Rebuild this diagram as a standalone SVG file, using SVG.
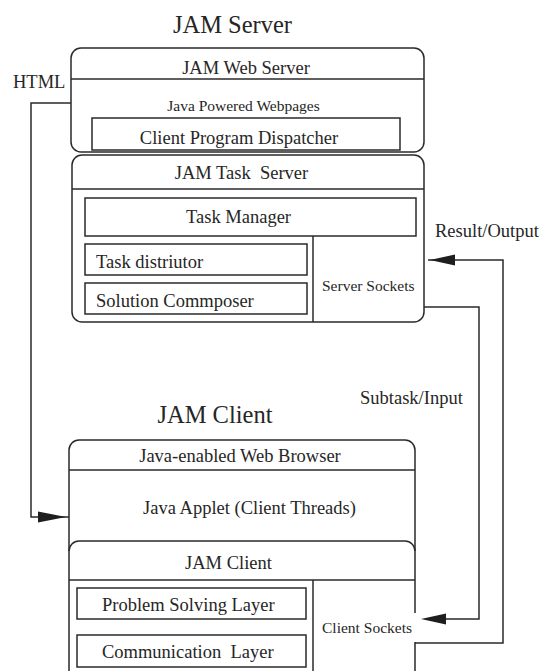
<svg xmlns="http://www.w3.org/2000/svg" width="542" height="671" viewBox="0 0 542 671">
<style>
  .box { fill: none; stroke: #2a2a2a; stroke-width: 1.5; }
  .ln { fill: none; stroke: #2a2a2a; stroke-width: 1.5; }
  .head { fill: #1e1e1e; stroke: none; }
  text { font-family: "Liberation Serif", "Times New Roman", serif; fill: #262626; }
  .t18 { font-size: 18.5px; }
  .t15 { font-size: 15.5px; }
  .title { font-size: 24.5px; }
  .pre { white-space: pre; }
  .mid { text-anchor: middle; }
</style>
<rect width="542" height="671" fill="#ffffff"/>

<text class="title mid" x="232.5" y="33">JAM Server</text>
<text class="title mid" x="215" y="423">JAM Client</text>

<g id="web-server">
  <rect class="box" x="71" y="48" width="353" height="104" rx="10"/>
  <line class="ln" x1="71" y1="79" x2="424" y2="79"/>
  <text class="t18 mid" x="246" y="74">JAM Web Server</text>
  <text class="t15 mid" x="243.5" y="111">Java Powered Webpages</text>
</g>
<g id="dispatcher">
  <rect class="box" x="92" y="118" width="308" height="32"/>
  <text class="t18 mid" x="239" y="144">Client Program Dispatcher</text>
</g>

<g id="task-server">
  <rect class="box" x="72" y="155" width="352" height="167" rx="10"/>
  <line class="ln" x1="72" y1="189" x2="424" y2="189"/>
  <line class="ln" x1="313" y1="236" x2="313" y2="322"/>
  <text class="t18 mid pre" x="241.5" y="179">JAM Task  Server</text>
</g>
<g id="task-manager">
  <rect class="box" x="85" y="198" width="331" height="38"/>
  <text class="t18 mid" x="238.5" y="223">Task Manager</text>
</g>
<g id="task-distributor">
  <rect class="box" x="85" y="244" width="222" height="31"/>
  <text class="t18" x="96" y="268">Task distriutor</text>
</g>
<g id="solution-composer">
  <rect class="box" x="85" y="283" width="222" height="31"/>
  <text class="t18" x="96" y="307">Solution Commposer</text>
</g>
<g id="server-sockets">
  <text class="t15" x="322" y="291">Server Sockets</text>
</g>

<g id="web-browser">
  <path class="box" d="M69,672 V450 A10,10 0 0 1 79,440 H405 A10,10 0 0 1 415,450 V613 M415,642 V672"/>
  <line class="ln" x1="69" y1="470" x2="415" y2="470"/>
  <text class="t18 mid" x="240" y="462">Java-enabled Web Browser</text>
  <text class="t18 mid" x="249.5" y="514">Java Applet (Client Threads)</text>
</g>
<g id="jam-client">
  <path class="box" d="M69,551 A10,10 0 0 1 79,541 H405 A10,10 0 0 1 415,551"/>
  <line class="ln" x1="69" y1="580" x2="415" y2="580"/>
  <line class="ln" x1="313" y1="580" x2="313" y2="672"/>
  <text class="t18 mid" x="228.5" y="569">JAM Client</text>
</g>
<g id="problem-solving">
  <rect class="box" x="77" y="588" width="229" height="31"/>
  <text class="t18" x="102" y="611">Problem Solving Layer</text>
</g>
<g id="communication">
  <rect class="box" x="77" y="635" width="229" height="32"/>
  <text class="t18 pre" x="102" y="658">Communication  Layer</text>
</g>
<g id="client-sockets">
  <text class="t15" x="322" y="633">Client Sockets</text>
</g>

<g id="connectors">
  <polyline class="ln" points="71,103 31,103 31,517 69,517"/>
  <polygon class="head" points="38,511.5 66,517 38,522.5"/>
  <text class="t18" x="13" y="88">HTML</text>

  <polyline class="ln" points="415,643 503,643 503,260 428,260"/>
  <polygon class="head" points="430,260 455,254.5 455,265.5"/>
  <text class="t18" x="435" y="237">Result/Output</text>

  <polyline class="ln" points="424,307 479,307 479,619 440,619"/>
  <polygon class="head" points="421,619 446,613.5 446,624.5"/>
  <text class="t18" x="360" y="404">Subtask/Input</text>
</g>
</svg>
